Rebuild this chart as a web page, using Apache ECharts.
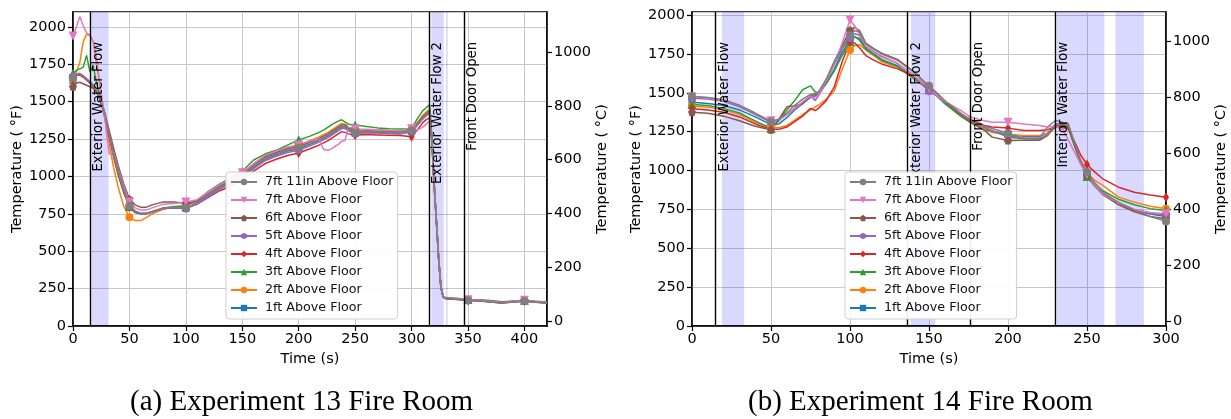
<!DOCTYPE html>
<html>
<head>
<meta charset="utf-8">
<script src="https://cdn.jsdelivr.net/npm/echarts@6/dist/echarts.min.js"></script>
<style>html,body{margin:0;padding:0;background:#fff;}#c{width:1231px;height:419px;}</style>
</head>
<body>
<div id="c"></div>
<script>
// ---------- Experiment 13 (left) ----------
const t13 = [0,3,6,9,12,15,18,21,25,28, 32,36,40,45,50,55,60,65,70,80, 90,100,110,120,130,140,150,160,170,180,
  190,200,210,218,222,226,230,235,238,241, 244,250,260,270,280,290,300,305,310,313, 316,318,320,322,324,326,328,330,340,350,
  360,370,380,390,400,410,420];
const e13_7ft11in = [1660,1680,1685,1670,1650,1630,1610,1580,1500,1420, 1290,1160,1040,920,805,770,755,755,765,790,
  795,790,825,880,930,965,1005,1065,1120,1150, 1175,1190,1220,1245,1260,1275,1295,1320,1335,1338,
  1318,1293,1300,1298,1295,1292,1307,1350,1395,1415, 1434,1250,950,700,450,260,195,185,180,172, 170,162,155,162,168,160,155];
const e13_7ft = [1940,2000,2070,2010,1960,1945,1900,1780,1560,1400, 1150,1165,1050,935,830,790,775,775,790,815,
  820,830,845,895,945,985,1025,1085,1140,1170, 1195,1210,1240,1250,1180,1175,1190,1215,1235,1240,
  1330,1318,1315,1312,1308,1305,1320,1310,1330,1350, 1370,1240,960,710,455,265,198,188,182,175, 172,165,158,165,172,163,157];
const e13_6ft = [1600,1625,1630,1620,1610,1600,1590,1560,1500,1430, 1310,1190,1075,950,850,810,795,795,810,830,
  830,820,835,885,935,970,1010,1075,1130,1160, 1185,1200,1230,1255,1270,1285,1305,1330,1345,1345,
  1325,1300,1305,1302,1300,1297,1310,1355,1400,1420, 1440,1250,952,702,452,262,196,186,181,174, 172,164,157,164,170,162,157];
const e13_5ft = [1670,1685,1690,1675,1655,1635,1610,1575,1495,1410, 1280,1150,1030,905,800,765,750,750,760,785,
  790,785,815,865,915,950,990,1050,1105,1135, 1160,1175,1205,1230,1245,1260,1280,1305,1320,1322,
  1305,1285,1292,1290,1287,1284,1300,1340,1385,1405, 1425,1245,945,698,448,258,194,184,179,171, 169,161,154,161,167,159,154];
const e13_4ft = [1650,1675,1680,1665,1645,1625,1600,1570,1490,1400, 1270,1140,1020,900,795,760,750,752,762,785,
  790,790,815,860,905,935,975,1035,1085,1115, 1140,1157,1185,1210,1225,1240,1260,1285,1300,1295,
  1285,1275,1280,1278,1276,1274,1265,1310,1360,1380, 1392,1230,940,695,445,255,192,183,178,170, 168,160,153,160,166,158,153];
const e13_3ft = [1690,1710,1720,1730,1810,1700,1740,1620,1520,1420, 1270,1130,1010,890,800,760,750,750,765,790,
  800,805,840,900,950,990,1035,1110,1150,1175, 1210,1245,1270,1295,1310,1330,1350,1370,1379,1365,
  1350,1345,1335,1325,1320,1318,1320,1385,1440,1460, 1479,1270,965,710,455,265,198,190,185,178, 176,170,162,168,172,166,160];
const e13_2ft = [1650,1700,1760,1900,1950,1945,1900,1750,1550,1400, 1220,1060,930,800,727,705,705,725,750,780,
  795,805,835,890,940,980,1020,1085,1140,1170, 1195,1210,1240,1265,1280,1295,1315,1340,1355,1350,
  1330,1310,1315,1312,1308,1305,1315,1360,1410,1430, 1450,1255,955,705,452,262,196,186,181,173, 171,163,156,163,170,161,156];
const e13_1ft = [1640,1675,1680,1665,1645,1625,1600,1570,1490,1410, 1280,1150,1030,900,795,760,750,752,762,785,
  790,785,820,875,925,960,1000,1060,1115,1145, 1170,1185,1215,1240,1255,1270,1290,1315,1330,1332,
  1312,1288,1295,1293,1290,1287,1300,1345,1390,1410, 1428,1245,945,698,448,258,194,184,180,172, 170,162,155,162,168,160,155];
const ev13 = [{x:15, label:'Exterior Water Flow'}, {x:315.5, label:'Exterior Water Flow 2'}, {x:346.5, label:'Front Door Open'}];
const bands13 = [[16.5,31.5],[317.5,328.5],[330.5,332]];

// ---------- Experiment 14 (right) ----------
const t14 = [0,10,20,30,40,50,55,60,65,70, 75,78,80,85,90,95,100,103,106,110, 115,120,130,140,150,155,160,170,176,185,
  190,200,210,220,225,230,235,238,242,246, 250,255,260,270,280,290,300];
const e14_7ft11in = [1478,1470,1455,1420,1370,1315,1330,1370,1420,1460, 1490,1495,1505,1590,1700,1790,1870,1900,1890,1815,
  1780,1750,1710,1635,1545,1500,1450,1370,1325,1285, 1270,1240,1205,1200,1230,1300,1305,1300,1180,1060, 990,920,860,795,745,705,673];
const e14_7ft = [1475,1468,1452,1418,1368,1320,1330,1360,1400,1440, 1480,1460,1490,1580,1680,1820,1969,1930,1880,1800,
  1760,1730,1690,1615,1530,1485,1445,1387,1345,1320, 1311,1311,1300,1290,1280,1285,1260,1200,1120,1040, 975,905,850,790,750,730,722];
const e14_6ft = [1375,1368,1350,1320,1285,1262,1330,1410,1415,1430, 1480,1490,1500,1580,1700,1800,1905,1920,1900,1820,
  1785,1755,1715,1640,1540,1495,1445,1360,1315,1260, 1215,1193,1195,1195,1225,1290,1295,1290,1170,1045, 970,900,845,780,735,705,690];
const e14_5ft = [1465,1460,1445,1410,1360,1310,1325,1360,1400,1440, 1480,1450,1480,1570,1680,1780,1850,1880,1870,1800,
  1765,1735,1690,1615,1508,1480,1440,1365,1325,1280, 1255,1225,1210,1210,1280,1322,1310,1305,1180,1050, 975,905,855,790,750,725,715];
const e14_4ft = [1397,1390,1375,1345,1300,1265,1265,1280,1315,1350, 1400,1386,1400,1450,1536,1700,1830,1820,1790,1740,
  1710,1686,1654,1610,1530,1490,1445,1365,1330,1290, 1280,1273,1258,1257,1262,1280,1275,1270,1190,1100, 1039,990,947,893,861,843,829];
const e14_3ft = [1425,1418,1400,1370,1320,1270,1320,1390,1450,1520, 1545,1505,1500,1560,1640,1740,1830,1860,1840,1780,
  1745,1710,1670,1595,1520,1480,1430,1350,1310,1260, 1257,1215,1205,1205,1230,1280,1285,1280,1160,1050, 962,915,870,815,780,755,743];
const e14_2ft = [1415,1408,1392,1360,1310,1280,1275,1290,1325,1360, 1390,1410,1420,1460,1510,1650,1776,1805,1810,1776,
  1740,1700,1665,1595,1520,1480,1435,1360,1320,1270, 1245,1230,1225,1225,1240,1280,1280,1275,1170,1070, 985,935,904,829,797,770,754];
const e14_1ft = [1440,1432,1418,1390,1345,1295,1300,1340,1390,1430, 1470,1480,1490,1560,1650,1760,1832,1860,1850,1790,
  1750,1715,1675,1600,1525,1485,1440,1360,1320,1275, 1250,1235,1220,1220,1240,1290,1290,1285,1170,1050, 960,900,850,790,745,720,705];
const ev14 = [{x:15, label:'Exterior Water Flow'}, {x:136.5, label:'Exterior Water Flow 2'}, {x:176, label:'Front Door Open'}, {x:230, label:'Interior Water Flow'}];
const bands14 = [[19,33],[138.5,154],[231,261],[268,286]];

// ---------- shared ----------
const seriesNames = ['7ft 11in Above Floor','7ft Above Floor','6ft Above Floor','5ft Above Floor','4ft Above Floor','3ft Above Floor','2ft Above Floor','1ft Above Floor'];
const celsiusTicks = [0,200,400,600,800,1000];

const styles = {
  '7ft 11in Above Floor': {color:'#7f7f7f', symbol:'circle', size:8},
  '7ft Above Floor': {color:'#e377c2', symbol:'path://M-10,-8 L10,-8 L0,9 Z', size:9},
  '6ft Above Floor': {color:'#8c564b', symbol:'path://M0,-10 L9.51,-3.09 L5.88,8.09 L-5.88,8.09 L-9.51,-3.09 Z', size:8},
  '5ft Above Floor': {color:'#9467bd', symbol:'path://M0,-10 L8.66,-5 L8.66,5 L0,10 L-8.66,5 L-8.66,-5 Z', size:8},
  '4ft Above Floor': {color:'#d62728', symbol:'diamond', size:[6,10]},
  '3ft Above Floor': {color:'#2ca02c', symbol:'triangle', size:9},
  '2ft Above Floor': {color:'#ff7f0e', symbol:'circle', size:8},
  '1ft Above Floor': {color:'#1f77b4', symbol:'rect', size:7}
};

const FONT = 'DejaVu Sans';
const f2c = f => (f - 32) / 1.8;
const c2f = c => c * 1.8 + 32;

function lineSeries(name, times, vals, gi) {
  const st = styles[name];
  return {
    type:'line', name, xAxisIndex: gi, yAxisIndex: gi*2,
    data: times.map((t,i) => (t % 50 === 0) ? {value:[t, vals[i]]} : {value:[t, vals[i]], symbol:'none'}),
    symbol: st.symbol, symbolSize: st.size, showSymbol: true, showAllSymbol: true,
    lineStyle: {color: st.color, width: 1.5}, itemStyle: {color: st.color, borderWidth: 0},
    emphasis: {disabled: true}, animation: false, z: 3
  };
}

function decoSeries(gi, events, bands) {
  return [{
    type:'line', name:'bands'+gi, xAxisIndex: gi, yAxisIndex: gi*2, data: [], silent: true, z: 1,
    markArea: {silent: true, itemStyle: {color:'rgba(0,0,255,0.15)'},
      data: bands.map(b => [{xAxis: b[0]}, {xAxis: b[1]}])}
  },{
    type:'line', name:'events'+gi, xAxisIndex: gi, yAxisIndex: gi*2, data: [], silent: true, z: 4,
    markLine: {silent: true, symbol: ['none','none'], animation: false,
      lineStyle: {color:'#000', width: 1.4, type:'solid'},
      data: events.map(e => ({xAxis: e.x, label: {show: true, formatter: e.label, position: 'insideEndBottom',
        distance: [30, 2], color:'#000', fontFamily: FONT, fontSize: 13.2}}))}
  }];
}

const exp13 = {'7ft 11in Above Floor':e13_7ft11in,'7ft Above Floor':e13_7ft,'6ft Above Floor':e13_6ft,'5ft Above Floor':e13_5ft,
  '4ft Above Floor':e13_4ft,'3ft Above Floor':e13_3ft,'2ft Above Floor':e13_2ft,'1ft Above Floor':e13_1ft};
const exp14 = {'7ft 11in Above Floor':e14_7ft11in,'7ft Above Floor':e14_7ft,'6ft Above Floor':e14_6ft,'5ft Above Floor':e14_5ft,
  '4ft Above Floor':e14_4ft,'3ft Above Floor':e14_3ft,'2ft Above Floor':e14_2ft,'1ft Above Floor':e14_1ft};

const drawOrder = seriesNames.slice().reverse();
const series = [].concat(
  decoSeries(0, ev13, bands13),
  drawOrder.map(n => lineSeries(n, t13, exp13[n], 0)),
  decoSeries(1, ev14, bands14),
  drawOrder.map(n => lineSeries(n, t14, exp14[n], 1))
);

const axisText = {color:'#000', fontFamily: FONT, fontSize: 14.5};
function xAx(gi, max) {
  return {type:'value', gridIndex: gi, min: 0, max, interval: 50,
    name:'Time (s)', nameLocation:'middle', nameGap: 22, nameTextStyle: axisText,
    axisLine:{show:true, lineStyle:{color:'#000', width:1.5}},
    axisTick:{show:true, inside:false, length:5, lineStyle:{color:'#000', width:1.2}},
    axisLabel:{...axisText, margin: 6, showMaxLabel: max % 50 === 0, formatter: v => String(v)},
    splitLine:{show:true, lineStyle:{color:'#c8c8c8', width:1}}};
}
function yF(gi, max) {
  return {type:'value', gridIndex: gi, position:'left', min: 0, max, interval: 250,
    name:'Temperature ( °F)', nameLocation:'middle', nameGap: 46, nameTextStyle: axisText,
    axisLine:{show:true, lineStyle:{color:'#000', width:1.5}},
    axisTick:{show:true, length:5, lineStyle:{color:'#000', width:1.2}},
    axisLabel:{...axisText, margin: 7, showMaxLabel: false, formatter: v => String(v)},
    splitLine:{show:true, lineStyle:{color:'#c8c8c8', width:1}}};
}
function yC(gi, max) {
  const vals = celsiusTicks.map(c2f);
  return {type:'value', gridIndex: gi, position:'right', min: 0, max,
    name:'Temperature ( °C)', nameLocation:'middle', nameGap: 46, nameTextStyle: axisText,
    axisLine:{show:true, lineStyle:{color:'#000', width:1.5}},
    axisTick:{show:true, length:5, customValues: vals, lineStyle:{color:'#000', width:1.2}},
    axisLabel:{...axisText, margin: 7, customValues: vals, formatter: v => String(Math.round(f2c(v)))},
    splitLine:{show:false}};
}
function legendFor(left) {
  return {data: seriesNames, orient:'vertical', left, top: 172, itemWidth: 26, itemHeight: 8, itemGap: 4, z: 20,
    padding:[3,4,4,4], borderColor:'#d0d0d0', borderWidth:1, borderRadius:3, backgroundColor:'rgba(255,255,255,0.93)',
    selectedMode: false, textStyle:{fontFamily: FONT, fontSize: 12.7, color:'#111', lineHeight: 14, padding:[0,0,0,3]}};
}

const chart = echarts.init(document.getElementById('c'), null, {renderer:'canvas'});
chart.setOption({
  animation: false,
  backgroundColor:'#fff',
  grid: [
    {left: 73, right: 684, top: 12, bottom: 93, show: true, borderColor:'#000', borderWidth: 1.5, backgroundColor:'transparent'},
    {left: 692, right: 65, top: 12, bottom: 93, show: true, borderColor:'#000', borderWidth: 1.5, backgroundColor:'transparent'}
  ],
  xAxis: [xAx(0, 420), xAx(1, 300)],
  yAxis: [yF(0, 2100), yC(0, 2100), yF(1, 2020), yC(1, 2020)],
  legend: [legendFor(226), legendFor(845)],
  series,
  graphic: [
    {type:'text', left: 130, top: 388, style:{text:'(a) Experiment 13 Fire Room', font:'29px "Liberation Serif"', fill:'#000'}},
    {type:'text', left: 748, top: 388, style:{text:'(b) Experiment 14 Fire Room', font:'29px "Liberation Serif"', fill:'#000'}}
  ]
});
</script>
</body>
</html>
